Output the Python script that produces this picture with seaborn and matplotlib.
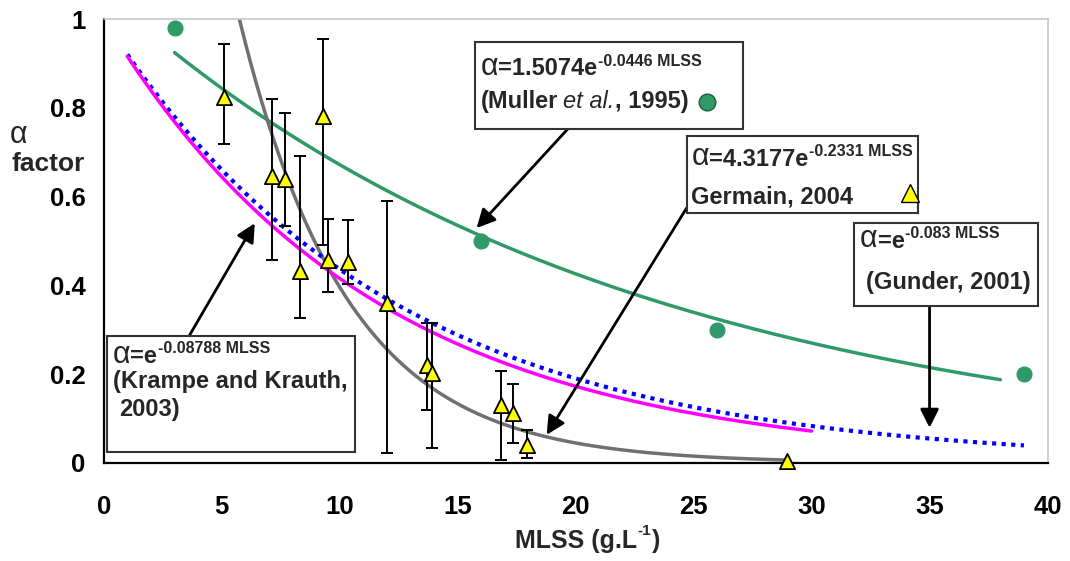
import matplotlib
matplotlib.use('Agg')
import matplotlib.pyplot as plt
from matplotlib.patches import Rectangle
import numpy as np
import pandas as pd
import seaborn as sns

# Germain, 2004: measured alpha factor vs MLSS, with error bar bounds
germain_mlss = [5.1, 7.15, 7.7, 8.3, 9.3, 9.5, 10.35, 12.0, 13.7, 13.9, 16.85, 17.35, 17.95, 28.95]
germain_alpha = [0.824, 0.647, 0.64, 0.433, 0.782, 0.456, 0.453, 0.36, 0.221, 0.202, 0.131, 0.112, 0.04, 0.003]
germain_hi = [0.944, 0.82, 0.788, 0.692, 0.954, 0.549, 0.547, 0.589, 0.316, 0.316, 0.208, 0.178, 0.074, np.nan]
germain_lo = [0.719, 0.457, 0.534, 0.326, 0.491, 0.386, 0.402, 0.022, 0.119, 0.033, 0.007, 0.044, 0.011, np.nan]

# Muller et al., 1995 points
muller_mlss = [3, 16, 26, 39]
muller_alpha = [0.98, 0.5, 0.3, 0.2]

# exponential fits alpha = a*exp(-k*MLSS), as drawn on the chart
fit_names = ['muller', 'germain', 'gunder', 'krampe']
fit_coef = [1.06, 3.5, 1.0, 1.0]
fit_rate = [0.0456, 0.218, 0.083, 0.08788]
fit_start = [3, 5, 1, 1]
fit_end = [38, 29, 39, 30]

green = '#2f9a68'

sns.set_style('white')
plt.rcParams['font.family'] = ['Liberation Sans', 'DejaVu Sans']

fig = plt.figure(figsize=(10.7, 5.61), dpi=100)
ax = fig.add_axes([0.097, 0.175, 0.882, 0.791])

styles = {
    'muller': dict(color=green, lw=2.5),
    'germain': dict(color='#707070', lw=2.5),
    'gunder': dict(color='#0000ff', lw=3, linestyle=(0, (1, 1.3))),
    'krampe': dict(color='#ff00ff', lw=2.5),
}
for name, a, k, x0, x1 in zip(fit_names, fit_coef, fit_rate, fit_start, fit_end):
    xs = np.linspace(x0, x1, 300)
    df = pd.DataFrame({'mlss': xs, 'alpha': a * np.exp(-k * xs)})
    sns.lineplot(data=df, x='mlss', y='alpha', ax=ax, zorder=2, **styles[name])

g = pd.DataFrame({'mlss': germain_mlss, 'alpha': germain_alpha,
                  'hi': germain_hi, 'lo': germain_lo})
ge = g.dropna()
ax.errorbar(ge['mlss'], ge['alpha'], yerr=[ge['alpha'] - ge['lo'], ge['hi'] - ge['alpha']],
            fmt='none', ecolor='black', elinewidth=1.4, capsize=4.5, capthick=1.4, zorder=3)
sns.scatterplot(data=g, x='mlss', y='alpha', ax=ax, marker='^', s=120, color='#ffff00',
                edgecolor='black', linewidth=1.3, zorder=4, clip_on=False)
sns.scatterplot(x=muller_mlss, y=muller_alpha, ax=ax, marker='o', s=115, color=green,
                edgecolor=green, zorder=4, clip_on=False)

ax.set_xlim(0, 40)
ax.set_ylim(0, 1)
ax.set_xticks(range(0, 41, 5))
ax.set_yticks([0, 0.2, 0.4, 0.6, 0.8, 1])
ax.set_yticklabels(['0', '0.2', '0.4', '0.6', '0.8', '1'])
ax.tick_params(direction='out', width=1.5, labelsize=18.5, colors='black')
ax.tick_params(axis='x', length=6, pad=17)
ax.tick_params(axis='y', length=7, pad=6)
for lab in ax.get_xticklabels() + ax.get_yticklabels():
    lab.set_fontweight('bold')
for s in ['left', 'bottom']:
    ax.spines[s].set_color('black')
    ax.spines[s].set_linewidth(1.6)
for s in ['top', 'right']:
    ax.spines[s].set_color('#c8c8c8')
    ax.spines[s].set_linewidth(1.2)
ax.set_xlabel('')
ax.set_ylabel('')
fig.text(0.017, 0.76, '\u03b1', fontsize=22, ha='center', va='center')
fig.text(0.045, 0.708, 'factor', fontsize=19, fontweight='bold', ha='center', va='center')

# annotation boxes (x0, y0, x1, y1 in data units)
boxes = [(15.72, 0.752, 27.08, 0.948), (24.7, 0.563, 34.5, 0.736),
         (31.8, 0.354, 39.58, 0.541), (0.13, 0.025, 10.64, 0.286)]
for x0, y0, x1, y1 in boxes:
    ax.add_patch(Rectangle((x0, y0), x1 - x0, y1 - y0, facecolor='white',
                           edgecolor='#333333', lw=1.5, zorder=6))

arrows = [((19.66, 0.752), (15.8, 0.529)), ((24.7, 0.574), (18.77, 0.063)),
          ((35.0, 0.354), (35.0, 0.079)), ((3.64, 0.288), (6.4, 0.54))]
for start, tip in arrows:
    ax.annotate('', xy=tip, xytext=start, zorder=5,
                arrowprops=dict(arrowstyle='-|>', color='black', lw=2, mutation_scale=28,
                                shrinkA=0, shrinkB=0))


def rich(x, y, pieces, transform=None):
    # chain text pieces left to right: (text, size, weight, style, dx, dy) in points
    t = None
    for txt, size, weight, style, dx, dy in pieces:
        kw = dict(fontsize=size, fontweight=weight, fontstyle=style, ha='left', zorder=7)
        if t is None:
            t = ax.text(x, y, txt, va='baseline', clip_on=False,
                        transform=transform or ax.transData, **kw)
        else:
            t = ax.annotate(txt, xy=(1, 0), xycoords=t, xytext=(dx, dy),
                            textcoords='offset points', va='bottom', annotation_clip=False, **kw)


def formula(x, y, body, sup):
    rich(x, y, [('\u03b1', 22, 'normal', 'normal', 0, 0),
                (body, 17, 'bold', 'normal', 0, 1.1),
                ('-' + sup + ' MLSS', 11.5, 'bold', 'normal', 0.5, 8.4)])


formula(15.97, 0.874, '=1.5074e', '0.0446')
rich(15.97, 0.799, [('(Muller', 17, 'bold', 'normal', 0, 0),
                    ('et al.', 17, 'normal', 'italic', 3.8, 0),
                    (', 1995)', 17, 'bold', 'normal', 0, 0)])
formula(24.9, 0.671, '=4.3177e', '0.2331')
rich(24.9, 0.585, [('Germain, 2004', 17, 'bold', 'normal', 0, 0)])
formula(32.05, 0.486, '=e', '0.083')
rich(32.3, 0.392, [('(Gunder, 2001)', 17, 'bold', 'normal', 0, 0)])
formula(0.38, 0.226, '=e', '0.08788')
rich(0.38, 0.168, [('(Krampe and Krauth,', 17, 'bold', 'normal', 0, 0)])
rich(0.64, 0.106, [('2003)', 17, 'bold', 'normal', 0, 0)])
ax.plot(25.55, 0.813, 'o', ms=12, color=green, mec='#1e5e40', zorder=7)
ax.plot(34.15, 0.607, '^', ms=13, color='#ffff00', mec='black', zorder=7)

# x axis title with a tight superscript
rich(0.4354, -0.1914, [('MLSS (g.L', 18, 'bold', 'normal', 0, 0),
                       ('-1', 11, 'bold', 'normal', 0.3, 10.5),
                       (')', 18, 'bold', 'normal', 0.5, -10.5)], transform=ax.transAxes)

fig.savefig('out.png', dpi=100)
